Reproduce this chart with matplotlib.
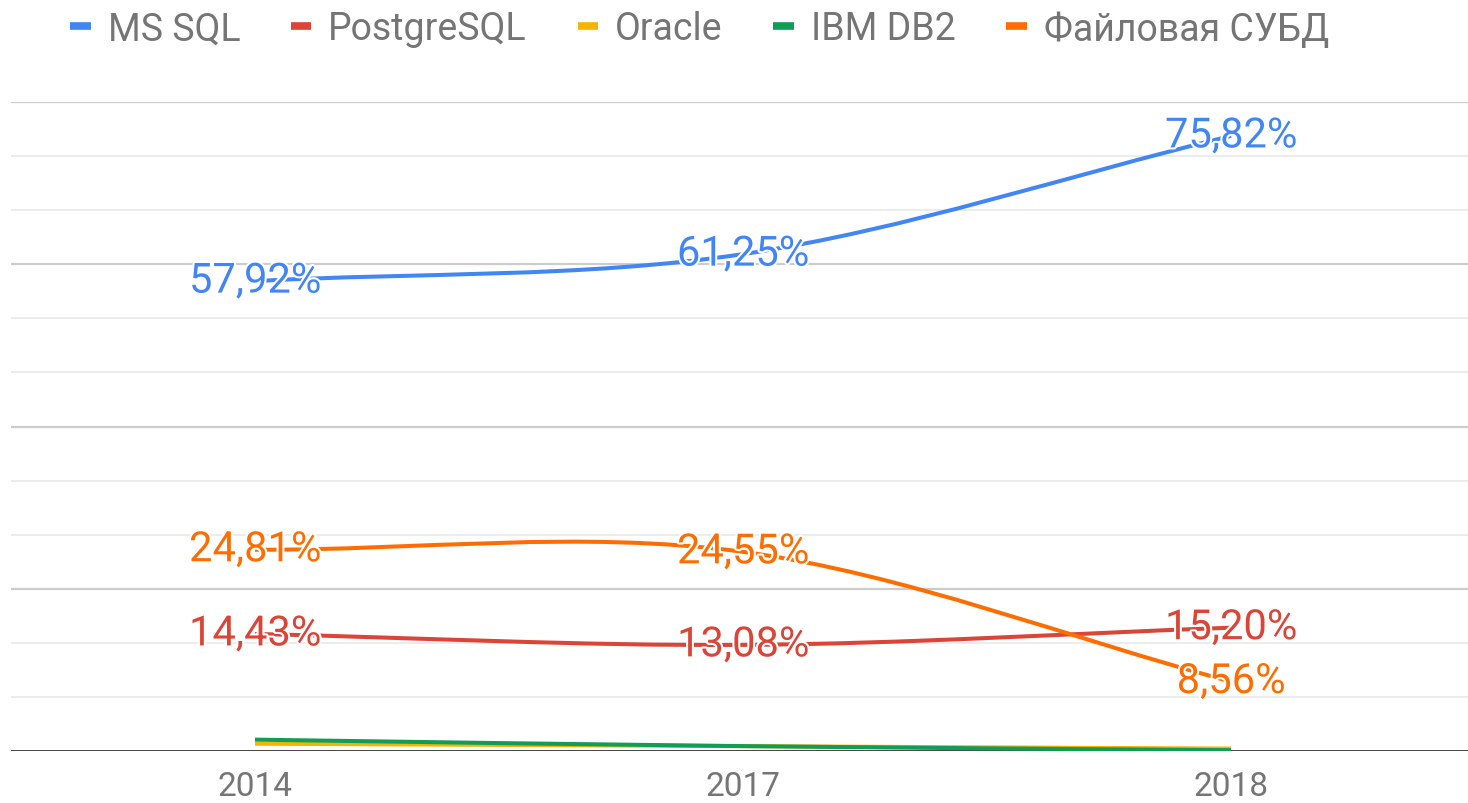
import matplotlib
matplotlib.use("Agg")
import matplotlib.pyplot as plt
from matplotlib.path import Path
from matplotlib.patches import PathPatch
from matplotlib.lines import Line2D
import matplotlib.patheffects as pe
import numpy as np

plt.rcParams['font.family'] = ['Roboto', 'DejaVu Sans']

years = ['2014', '2017', '2018']
series_names = ['MS SQL', 'PostgreSQL', 'Oracle', 'IBM DB2', 'Файловая СУБД']
ms_sql = [57.92, 61.25, 75.82]
postgresql = [14.43, 13.08, 15.20]
oracle = [0.9, 0.6, 0.3]
ibm_db2 = [1.4, 0.6, 0.1]
file_dbms = [24.81, 24.55, 8.56]
colors = ['#4285F4', '#DB4437', '#F4B400', '#0F9D58', '#FF6D00']
labeled = [True, True, False, False, True]

W, H = 1468, 804
fig = plt.figure(figsize=(W / 100, H / 100), dpi=100)
left_px, right_px = 11, 1475
top_px, base_px = 103, 752
ax = fig.add_axes([left_px / W, (H - base_px) / H, (right_px - left_px) / W, (base_px - top_px) / H])
ax.set_xlim(-0.5, 2.5)
ax.set_ylim(0, 80)
for s in ax.spines.values():
    s.set_visible(False)

# gridlines
major = [20, 40, 60, 80]
for v in major:
    ax.axhline(v, color='#cccccc', lw=1.6, zorder=0)
for k in range(12):
    v = k * 20 / 3
    if k % 3 != 0:
        ax.axhline(v, color='#ebebeb', lw=1.3, zorder=0)
ax.axhline(0, color='#333333', lw=2.0, zorder=1)

ax.set_yticks([])
ax.set_xticks(range(len(years)))
ax.set_xticklabels(years, fontsize=24, color='#757575')
ax.tick_params(axis='x', length=0, pad=14)


def smooth_path(xs, ys):
    n = len(xs)
    tang = []
    for i in range(n):
        if i == 0:
            t = (ys[1] - ys[0])
        elif i == n - 1:
            t = (ys[-1] - ys[-2])
        else:
            t = (ys[i + 1] - ys[i - 1]) / 2
        tang.append(t)
    verts = [(xs[0], ys[0])]
    codes = [Path.MOVETO]
    for i in range(n - 1):
        dx = xs[i + 1] - xs[i]
        verts += [(xs[i] + dx / 3, ys[i] + tang[i] / 3),
                  (xs[i + 1] - dx / 3, ys[i + 1] - tang[i + 1] / 3),
                  (xs[i + 1], ys[i + 1])]
        codes += [Path.CURVE4] * 3
    return Path(verts, codes)


all_series = [ms_sql, postgresql, oracle, ibm_db2, file_dbms]
xs = list(range(len(years)))
for idx, (vals, col) in enumerate(zip(all_series, colors)):
    patch = PathPatch(smooth_path(xs, vals), fill=False, edgecolor=col, lw=2.9,
                      capstyle='butt', zorder=3 + idx * 0.1)
    ax.add_patch(patch)

for vals, col, lab in zip(all_series, colors, labeled):
    if not lab:
        continue
    for x, v in zip(xs, vals):
        txt = f"{v:.2f}%".replace('.', ',')
        ax.text(x, v, txt, ha='center', va='center', fontsize=30, color=col, zorder=5,
                path_effects=[pe.withStroke(linewidth=3, foreground='white')])

handles = [Line2D([], [], color=c, lw=5.5, solid_capstyle='butt') for c in colors]
leg = fig.legend(handles, series_names, loc='center left', bbox_to_anchor=(70 / W, 1 - 30 / H),
                 ncol=5, frameon=False, fontsize=27, handlelength=0.55, handletextpad=0.45,
                 columnspacing=1.35, borderaxespad=0, borderpad=0)
for t in leg.get_texts():
    t.set_color('#757575')

fig.savefig('out.png', dpi=100)
